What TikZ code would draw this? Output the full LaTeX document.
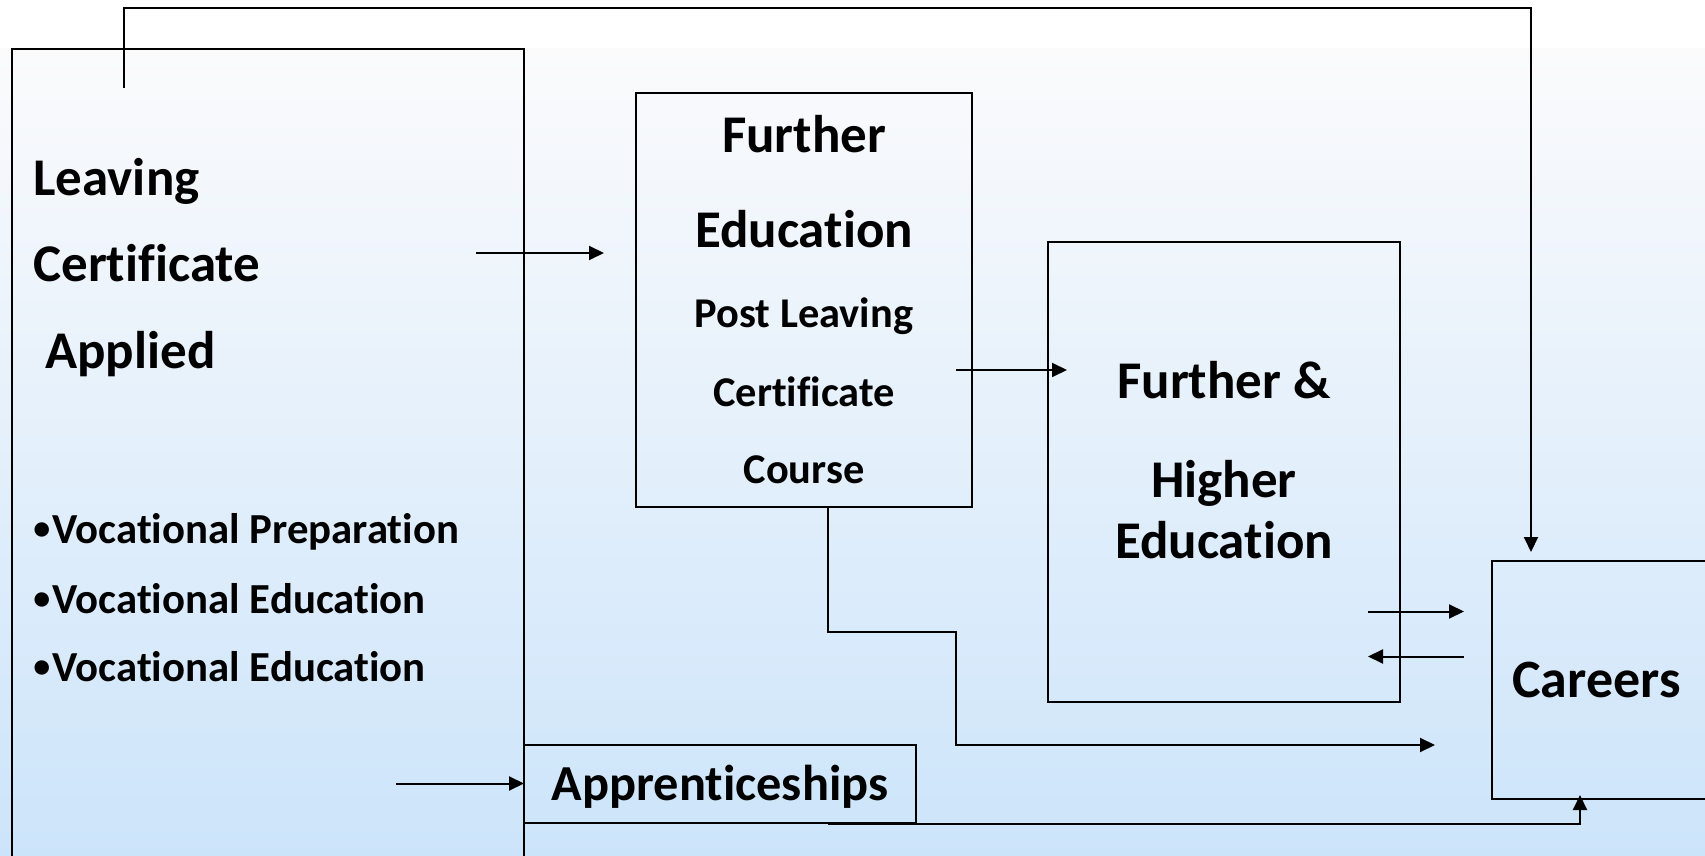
\documentclass[tikz,border=0pt]{standalone}
\usepackage{fontspec}
\setmainfont{Carlito}[Ligatures=NoCommon]
\usetikzlibrary{arrows.meta}

\definecolor{bgtop}{RGB}{251,251,252}
\definecolor{bgbottom}{RGB}{204,228,250}

\newcommand{\smalldot}{\raisebox{1.7pt}{\fontsize{17}{17}\selectfont•}\hspace{1pt}}

\tikzset{
    box/.style={draw, line width=1pt, inner sep=0pt, outer sep=0pt, anchor=north west},
    link/.style={line width=1pt},
    arrow/.style={link, -{Triangle[length=7.5pt,width=7pt]}},
    lctitle/.style={font=\fontsize{26.5}{30}\selectfont\bfseries, anchor=base west, inner sep=0pt},
    bulletline/.style={font=\fontsize{21.4}{24}\selectfont\bfseries, anchor=base west, inner sep=0pt},
    fetitle/.style={font=\fontsize{26.5}{30}\selectfont\bfseries, anchor=base, inner sep=0pt},
    fesub/.style={font=\fontsize{21.2}{25}\selectfont\bfseries, anchor=base, inner sep=0pt},
    bigtitle/.style={font=\fontsize{26.5}{30}\selectfont\bfseries, anchor=base, inner sep=0pt},
}

\begin{document}
\begin{tikzpicture}[x=0.5pt, y=-0.5pt]
    \useasboundingbox (0,0) rectangle (1705,856);
    % background: white band, then the gradient
    \fill[white] (0,0) rectangle (1705,49);
    \fill[top color=bgtop, bottom color=bgbottom] (0,49) rectangle (1705,856);

    % First, the boxes
    \node[box, minimum width=256pt, minimum height=420pt] (lcbox) at (12,49) {};
    \node[box, minimum width=168pt, minimum height=206.5pt] (febox) at (636,93.5) {};
    \node[box, minimum width=176pt, minimum height=229.5pt] (fhebox) at (1048,242.5) {};
    \node[box, minimum width=120pt, minimum height=119pt] (careers) at (1492,560.5) {};
    \node[box, minimum width=196pt, minimum height=39pt] (appr) at (524,744.5) {};

    % Texts of the boxes
    \node[lctitle] (lc1) at (33,196) {Leaving};
    \node[lctitle] (lc2) at (33,282) {Certificate};
    \node[lctitle] (lc3) at (33,368) {\ Applied};
    \node[bulletline] (voc1) at (33,543) {\smalldot Vocational Preparation};
    \node[bulletline] (voc2) at (33,613) {\smalldot Vocational Education};
    \node[bulletline] (voc3) at (33,681) {\smalldot Vocational Education};

    \node[fetitle] (fe1) at (804,153) {Further};
    \node[fetitle] (fe2) at (804,248) {Education};
    \node[fesub] (fe3) at (804,328) {Post Leaving};
    \node[fesub] (fe4) at (804,406) {Certificate};
    \node[fesub] (fe5) at (804,483) {Course};

    \node[bigtitle] (fhe1) at (1224,398) {Further \&};
    \node[bigtitle] (fhe2) at (1224,497) {Higher};
    \node[bigtitle] (fhe3) at (1224,558) {Education};

    \node[lctitle, font=\fontsize{27}{30}\selectfont\bfseries] (careerstext) at (1512,697) {Careers};
    \node[fetitle, font=\fontsize{25.2}{30}\selectfont\bfseries] (apprtext) at (720,800) {Apprenticeships};

    % Free ends of the connectors
    \coordinate (lcup) at (124,88);
    \coordinate (topright) at (1531,8.5);
    \coordinate (carin) at (1531,552);
    \coordinate (lcout) at (476,253);
    \coordinate (fein) at (604,253);
    \coordinate (feout) at (956,370);
    \coordinate (fhein) at (1067,370);
    \coordinate (fheout) at (1368,611.5);
    \coordinate (carleft) at (1464,611.5);
    \coordinate (carback) at (1464,656.5);
    \coordinate (fheback) at (1368,656.5);
    \coordinate (fedown) at (828,506);
    \coordinate (carstep) at (1435,745);
    \coordinate (apprin) at (396,783.5);
    \coordinate (approut) at (828,824);
    \coordinate (carbottom) at (1580,795);

    % Now draw the lines:
    \draw[arrow] (lcup) |- (topright) -- (carin);
    \draw[arrow] (lcout) -- (fein);
    \draw[arrow] (feout) -- (fhein);
    \draw[arrow] (fheout) -- (carleft);
    \draw[arrow] (carback) -- (fheback);
    \draw[arrow] (fedown) -- (828,632) -- (956,632) -- (956,745) -- (carstep);
    \draw[arrow] (apprin) -- (appr.west);
    \draw[arrow] (approut) -| (carbottom);
\end{tikzpicture}
\end{document}
